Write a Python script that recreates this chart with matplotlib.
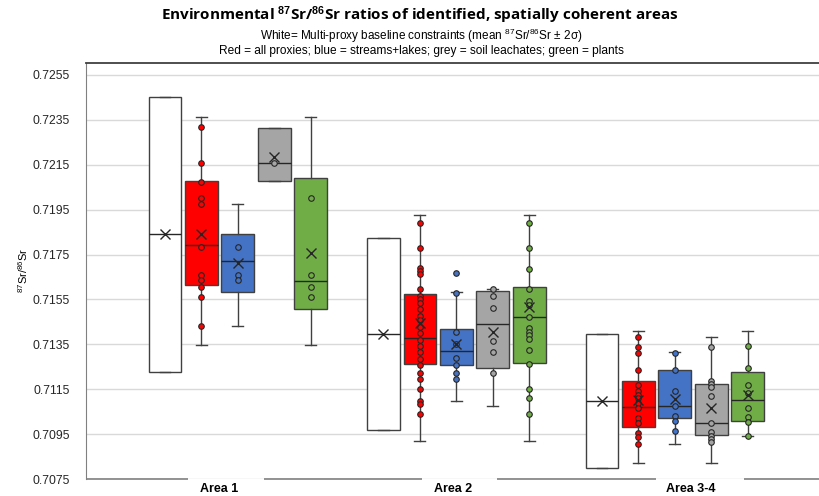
import numpy as np
import matplotlib
matplotlib.use("Agg")
import matplotlib.pyplot as plt

plt.rcParams['font.family'] = ['Liberation Sans', 'DejaVu Sans']
plt.rcParams['mathtext.fontset'] = 'custom'
plt.rcParams['mathtext.rm'] = 'Liberation Sans'
plt.rcParams['mathtext.it'] = 'Liberation Sans:italic'
plt.rcParams['mathtext.bf'] = 'Liberation Sans:bold'

# --- data ------------------------------------------------------------------
areas = ["Area 1", "Area 2", "Area 3-4"]
area_label_x = [1.48, 7.9, 14.45]

# white boxes: mean +/- 2 sigma
white_mean = [0.71840, 0.71396, 0.710985]
white_2sd = [0.00612, 0.00428, 0.00298]

# boxes per area: [whisker low, q1, median, q3, whisker high, mean]
red_box = [[0.71347, 0.71615, 0.71793, 0.72078, 0.72362, 0.71840],
           [0.70921, 0.71264, 0.71377, 0.71573, 0.71928, 0.71447],
           [0.70820, 0.70981, 0.71073, 0.71186, 0.71411, 0.71102]]
blue_box = [[0.71434, 0.71585, 0.71723, 0.71842, 0.71974, 0.71714],
            [0.71098, 0.71260, 0.71321, 0.71417, 0.71583, 0.71350],
            [0.70905, 0.71021, 0.71074, 0.71236, 0.71316, 0.71107]]
grey_box = [[0.72078, 0.72078, 0.72157, 0.72315, 0.72315, 0.72183],
            [0.71077, 0.71246, 0.71440, 0.71589, 0.71598, 0.71405],
            [0.70820, 0.70945, 0.70999, 0.71172, 0.71384, 0.71068]]
green_box = [[0.71347, 0.71508, 0.71632, 0.72090, 0.72362, 0.71756],
             [0.70921, 0.71269, 0.71472, 0.71604, 0.71928, 0.71518],
             [0.70942, 0.71009, 0.71102, 0.71228, 0.71411, 0.71125]]

red_pts = [[0.72317, 0.72157, 0.72075, 0.72001, 0.71974, 0.71785, 0.71659, 0.71637,
            0.71604, 0.71560, 0.71434],
           [0.71891, 0.71779, 0.71689, 0.71677, 0.71664, 0.71595, 0.71567, 0.71552,
            0.71536, 0.71508, 0.71475, 0.71459, 0.71429, 0.71399, 0.71370, 0.71344,
            0.71315, 0.71285, 0.71258, 0.71223, 0.71196, 0.71151, 0.71098, 0.71086,
            0.71040],
           [0.71382, 0.71337, 0.71310, 0.71236, 0.71169, 0.71144, 0.71125, 0.71110,
            0.71088, 0.71065, 0.71021, 0.70999, 0.70957, 0.70936, 0.70905]]
blue_pts = [[0.71785, 0.71659, 0.71637],
            [0.71667, 0.71580, 0.71407, 0.71350, 0.71289, 0.71260, 0.71224, 0.71197],
            [0.71313, 0.71236, 0.71144, 0.71076, 0.71031, 0.71009, 0.70964]]
grey_pts = [[0.72157],
            [0.71598, 0.71567, 0.71511, 0.71367, 0.71315, 0.71224],
            [0.71340, 0.71188, 0.71174, 0.71159, 0.71122, 0.70999, 0.70958, 0.70943,
             0.70929, 0.70914]]
green_pts = [[0.72001, 0.71659, 0.71604, 0.71560],
             [0.71891, 0.71779, 0.71686, 0.71595, 0.71543, 0.71527, 0.71472, 0.71424,
              0.71407, 0.71392, 0.71375, 0.71324, 0.71264, 0.71151, 0.71111, 0.71040],
             [0.71343, 0.71246, 0.71169, 0.71135, 0.71065, 0.71025, 0.71003, 0.70942]]

y_ticks = [0.7075, 0.7095, 0.7115, 0.7135, 0.7155, 0.7175, 0.7195, 0.7215, 0.7235, 0.7255]

series = [
    ("red", "#FF0000", red_box, red_pts),
    ("blue", "#4472C4", blue_box, blue_pts),
    ("grey", "#A5A5A5", grey_box, grey_pts),
    ("green", "#70AD47", green_box, green_pts),
]

EDGE = "#404040"
DARK = "#262626"
WIDTH = 0.9

fig = plt.figure(figsize=(8.19, 4.96), dpi=100)
ax = fig.add_axes([0.105, 0.034, 0.895, 0.839])


def draw_boxes(stats, positions, color):
    ax.bxp(stats, positions=positions, widths=WIDTH, patch_artist=True,
           showfliers=False, capwidths=0.3,
           boxprops=dict(facecolor=color, edgecolor=EDGE, linewidth=1.0),
           medianprops=dict(color=DARK, linewidth=1.0),
           whiskerprops=dict(color=EDGE, linewidth=1.0),
           capprops=dict(color=EDGE, linewidth=1.0))


# white baseline boxes (slot 0 in each group)
white_pos = [g * 6 for g in range(len(areas))]
white_stats = []
for m, s in zip(white_mean, white_2sd):
    white_stats.append(dict(whislo=m - s, q1=m - s, med=m, q3=m + s, whishi=m + s))
draw_boxes(white_stats, white_pos, "white")
ax.plot(white_pos, white_mean, linestyle="none", marker="x", color=DARK,
        ms=7, mew=1.0, zorder=5)

# proxy boxes
for k, (name, color, box, pts) in enumerate(series):
    pos = [g * 6 + k + 1 for g in range(len(areas))]
    stats = [dict(whislo=b[0], q1=b[1], med=b[2], q3=b[3], whishi=b[4]) for b in box]
    draw_boxes(stats, pos, color)
    for p, vals in zip(pos, pts):
        ax.scatter([p] * len(vals), vals, s=16, facecolor=color, edgecolor=DARK,
                   linewidths=0.8, zorder=4)
    ax.plot(pos, [b[5] for b in box], linestyle="none", marker="x", color=DARK,
            ms=7, mew=1.0, zorder=5)

ax.set_xlim(-2.17, 17.96)
ax.set_ylim(0.7075, 0.72603)
ax.set_yticks(y_ticks)
ax.set_yticklabels([f"{t:.4f}" for t in y_ticks], fontsize=8.7, color="#262626")
ax.tick_params(axis="y", length=0, pad=11.5)
ax.set_xticks([])
ax.yaxis.grid(True, color="#D9D9D9", linewidth=1.0)
ax.set_axisbelow(True)

ax.spines["right"].set_visible(False)
ax.spines["bottom"].set_visible(False)
ax.spines["left"].set_color("#808080")
ax.spines["top"].set_color("#404040")
ax.spines["top"].set_linewidth(1.3)

# broken category axis line along the bottom
xt = ax.get_xaxis_transform()
for x0, x1 in [(-2.17, 0.63), (2.72, 7.06), (9.12, 13.48), (15.9, 17.96)]:
    ax.plot([x0, x1], [0, 0], color="#808080", linewidth=1.2, transform=xt,
            clip_on=False, solid_capstyle="butt")
for x, lab in zip(area_label_x, areas):
    ax.text(x, -0.010, lab, transform=xt, ha="center", va="top",
            fontsize=9, fontweight="bold")

fig.text(0.513, 0.969, r"Environmental $^{\mathbf{87}}$Sr/$^{\mathbf{86}}$Sr ratios of identified, spatially coherent areas",
         ha="center", va="center", fontsize=11, fontweight="bold",
         family=["Open Sans", "DejaVu Sans"])
fig.text(0.514, 0.927, r"White= Multi-proxy baseline constraints (mean $^{87}$Sr/$^{86}$Sr ± 2σ)",
         ha="center", va="center", fontsize=8.5)
fig.text(0.514, 0.897, "Red = all proxies; blue = streams+lakes; grey = soil leachates; green = plants",
         ha="center", va="center", fontsize=8.6)
fig.text(0.028, 1 - 270 / 496, r"$^{87}$Sr/$^{86}$Sr", rotation=90,
         ha="center", va="center", fontsize=8)

fig.savefig("out.png", dpi=100)
